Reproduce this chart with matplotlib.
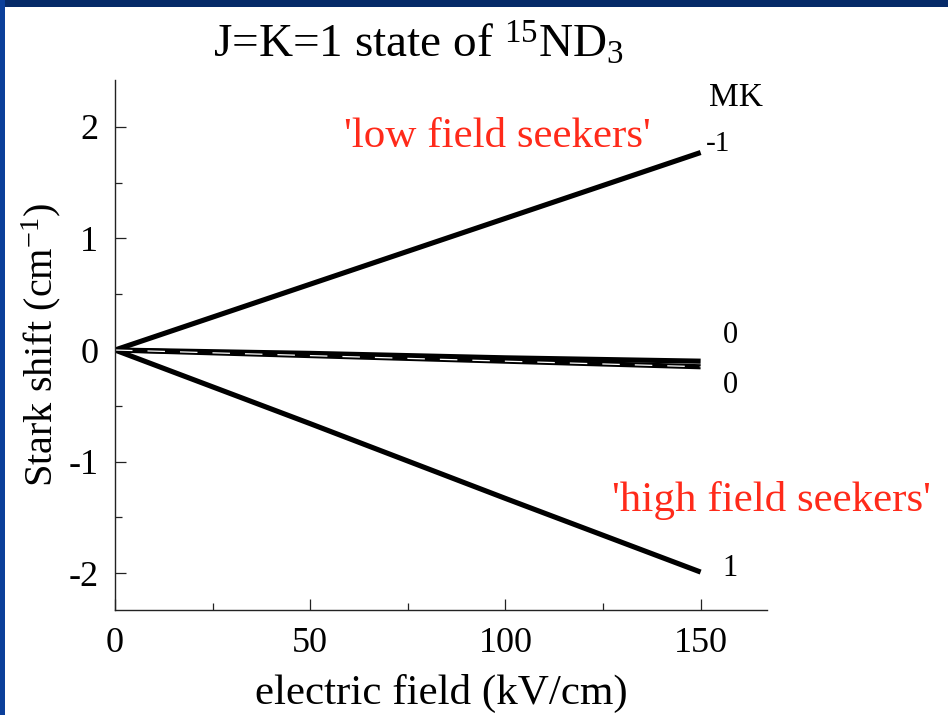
import matplotlib
matplotlib.use("Agg")
import matplotlib.pyplot as plt
from matplotlib.patches import Rectangle
from matplotlib.ticker import FuncFormatter

# Stark shift of the J=K=1 doublet of 15ND3 versus applied electric field
field_kv_cm = [0, 50, 100, 150]
shift_mk_minus1 = [0.0, 0.59, 1.18, 1.77]
shift_mk_0a = [0.0, -0.03, -0.07, -0.10]
shift_mk_0b = [0.0, -0.05, -0.10, -0.15]
shift_mk_plus1 = [0.0, -0.66, -1.33, -1.99]

x_ticks = [0, 50, 100, 150]
y_ticks = [-2, -1, 0, 1, 2]

plt.rcParams["font.family"] = ["Liberation Serif", "DejaVu Serif"]
plt.rcParams["mathtext.fontset"] = "custom"
plt.rcParams["mathtext.rm"] = "Liberation Serif"
plt.rcParams["mathtext.it"] = "Liberation Serif:italic"
plt.rcParams["axes.unicode_minus"] = False

fig = plt.figure(figsize=(9.48, 7.15), dpi=100)
fig.patch.set_facecolor("white")

# slide frame
fig.add_artist(Rectangle((0, 1 - 7 / 715), 1, 7 / 715, transform=fig.transFigure,
                         facecolor="#062a68", edgecolor="none", zorder=0))
fig.add_artist(Rectangle((0, 0), 5 / 948, 1, transform=fig.transFigure,
                         facecolor="#0b3f9a", edgecolor="none", zorder=0))

ax = fig.add_axes([115 / 948, 1 - 610 / 715, (767 - 115) / 948, (610 - 80) / 715])

black = "black"
for series in (shift_mk_minus1, shift_mk_plus1, shift_mk_0a, shift_mk_0b):
    ax.plot(field_kv_cm, series, color=black, lw=3.7, solid_capstyle="butt")
ax.plot(field_kv_cm, shift_mk_0b, color="white", lw=0.9, dashes=(14, 12))

ax.set_xlim(0, 167)
ax.set_ylim(-2.33, 2.42)
ax.set_xticks(x_ticks)
ax.set_yticks(y_ticks)
ax.set_xticks([25, 75, 125], minor=True)
ax.set_yticks([-1.5, -0.5, 0.5, 1.5], minor=True)
ax.yaxis.set_major_formatter(FuncFormatter(lambda v, p: f"{int(v)}"))
ax.tick_params(which="both", direction="in", width=0.9, colors="#222222",
               labelsize=26, labelcolor="black")
ax.tick_params(which="major", length=8)
ax.tick_params(which="minor", length=5)
ax.tick_params(axis="x", pad=12)
ax.tick_params(axis="y", pad=12)
for side in ("top", "right"):
    ax.spines[side].set_visible(False)
for side in ("left", "bottom"):
    ax.spines[side].set_linewidth(1.0)
    ax.spines[side].set_color("#222222")

ax.set_xlabel("electric field (kV/cm)", fontsize=31, labelpad=10)
ax.set_ylabel("Stark shift (cm$^{-1}$)", fontsize=29, labelpad=4)
ax.set_title("J=K=1 state of $^{15}$ND$_3$", fontsize=34, pad=16, x=0.466)

# MK labels at the line ends
ax.text(159, 2.26, "MK", fontsize=24, ha="center", va="center")
ax.text(151.3, 1.85, "-1", fontsize=21, ha="left", va="center")
ax.text(155.6, 0.13, "0", fontsize=22, ha="left", va="center")
ax.text(155.6, -0.32, "0", fontsize=22, ha="left", va="center")
ax.text(155.6, -1.96, "1", fontsize=22, ha="left", va="center")

red = "#ff2a1a"
ax.text(98, 1.91, "'low field seekers'", color=red, fontsize=31, ha="center", va="center")
ax.text(168.2, -1.35, "'high field seekers'", color=red, fontsize=31, ha="center",
        va="center", clip_on=False)

fig.savefig("out.png", dpi=100)
